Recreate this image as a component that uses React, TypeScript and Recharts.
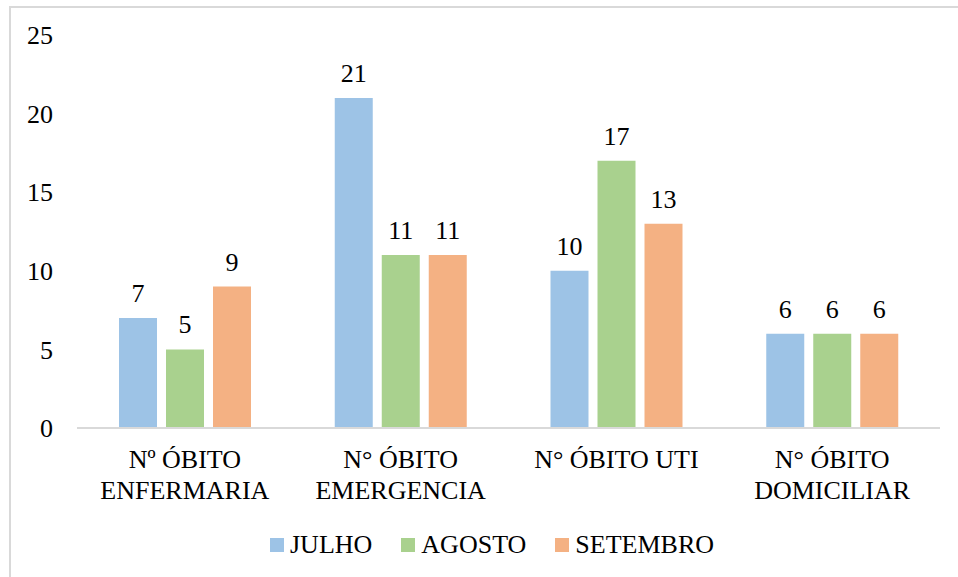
import React from 'react';
import { BarChart, Bar, XAxis, YAxis, LabelList } from 'recharts';

const categories = ['Nº ÓBITO\nENFERMARIA', 'N° ÓBITO\nEMERGENCIA', 'N° ÓBITO UTI', 'N° ÓBITO\nDOMICILIAR'];
const julho = [7, 21, 10, 6];
const agosto = [5, 11, 17, 6];
const setembro = [9, 11, 13, 6];
const yTicks = [0, 5, 10, 15, 20, 25];

const seriesInfo = [
    { key: 'julho', name: 'JULHO', color: '#9DC3E6' },
    { key: 'agosto', name: 'AGOSTO', color: '#A9D18E' },
    { key: 'setembro', name: 'SETEMBRO', color: '#F4B183' },
];

const data = categories.map((c, i) => ({
    name: c,
    julho: julho[i],
    agosto: agosto[i],
    setembro: setembro[i],
}));

const FONT = "'Liberation Serif', Tinos, 'Times New Roman', Times, 'Noto Serif', 'DejaVu Serif', FreeSerif, serif";

const CategoryTick = ({ x, y, payload }: any) => {
    const lines = String(payload.value).split('\n');
    return (
        <text x={x} y={y} textAnchor="middle" style={{ fontFamily: FONT }} fontSize={26} fill="#000">
            {lines.map((line, i) => (
                <tspan key={i} x={x} dy={i === 0 ? 32 : 31}>{line}</tspan>
            ))}
        </text>
    );
};

const App: React.FC = () => {
    return (
        <div style={{ position: 'absolute', left: 0, top: 0, width: 958, height: 577, overflow: 'hidden', background: '#fff', fontFamily: FONT }}>
            <div style={{ position: 'absolute', left: 9, top: 6, width: 1200, height: 1200, border: '2px solid #D9D9D9', boxSizing: 'border-box' }} />
            <div style={{ position: 'absolute', left: 0, top: 0 }}>
                <BarChart
                    width={958}
                    height={577}
                    data={data}
                    margin={{ top: 35, right: 18, left: 0, bottom: 119 }}
                    barSize={38}
                    barGap={9}
                >
                    <XAxis
                        dataKey="name"
                        height={30}
                        axisLine={{ stroke: '#D9D9D9', strokeWidth: 2 }}
                        tickLine={false}
                        tick={<CategoryTick />}
                        interval={0}
                    />
                    <YAxis
                        width={77}
                        domain={[0, 25]}
                        ticks={yTicks}
                        axisLine={false}
                        tickLine={false}
                        tickSize={0}
                        tickMargin={24}
                        tick={{ style: { fontFamily: FONT }, fontSize: 26, fill: '#000' }}
                    />
                    {seriesInfo.map((s) => (
                        <Bar key={s.key} dataKey={s.key} name={s.name} fill={s.color} isAnimationActive={false}>
                            <LabelList dataKey={s.key} position="top" offset={16} style={{ fontFamily: FONT }} fontSize={26} fill="#000" />
                        </Bar>
                    ))}
                </BarChart>
            </div>
            <div style={{ position: 'absolute', left: 270, top: 529, display: 'flex', alignItems: 'center', fontSize: 26, color: '#000', lineHeight: '32px' }}>
                {seriesInfo.map((s) => (
                    <div key={s.key} style={{ display: 'flex', alignItems: 'center', marginRight: 29 }}>
                        <span style={{ display: 'inline-block', width: 14, height: 14, background: s.color, marginRight: 6 }} />
                        <span>{s.name}</span>
                    </div>
                ))}
            </div>
        </div>
    );
};

export default App;
